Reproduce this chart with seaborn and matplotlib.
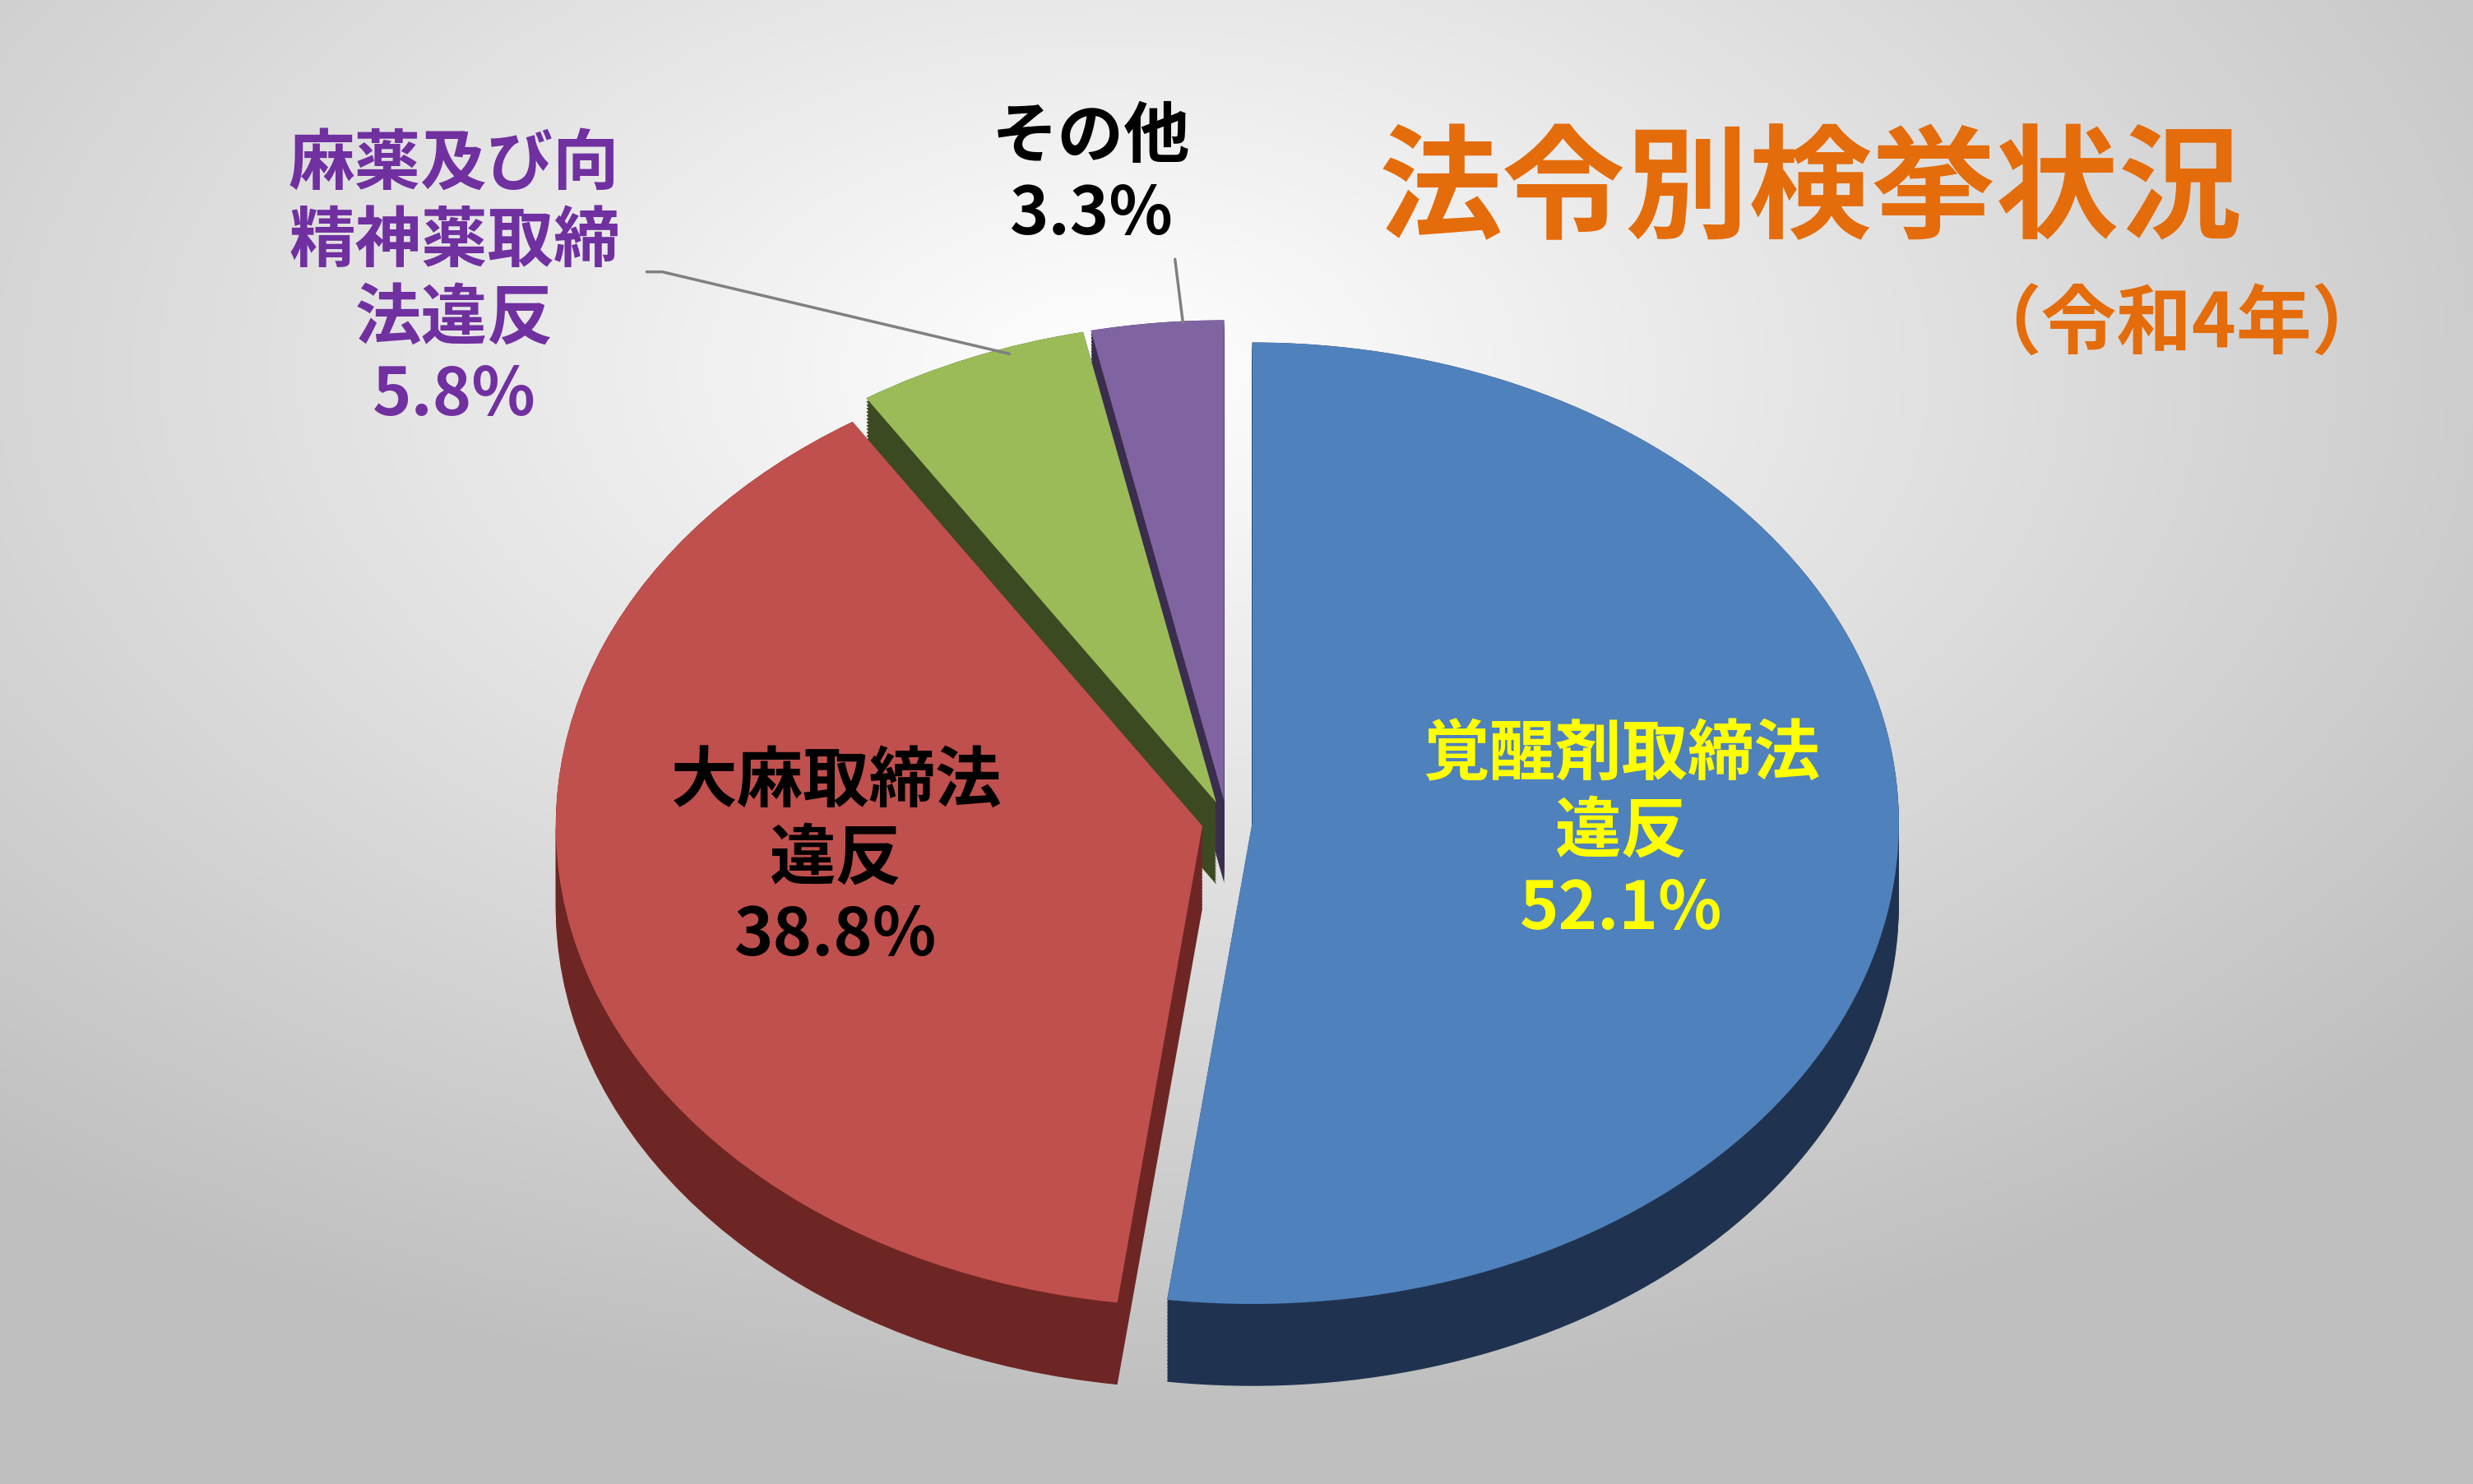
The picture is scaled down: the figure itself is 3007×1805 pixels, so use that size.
import numpy as np
import matplotlib
matplotlib.use("Agg")
import matplotlib.pyplot as plt
import seaborn as sns

sns.set_theme(style="white")
plt.rcParams['font.family'] = ['Noto Sans CJK JP', 'DejaVu Sans']

categories = ["覚醒剤取締法\n違反", "大麻取締法\n違反", "麻薬及び向\n精神薬取締\n法違反", "その他"]
values = [52.1, 38.8, 5.8, 3.3]
pct_labels = ["52.1%", "38.8%", "5.8%", "3.3%"]
top_colors = ["#4F81BD", "#C0504D", "#9BBB59", "#8064A2"]
side_colors = ["#1F3350", "#6E2624", "#3C4A22", "#3A2D4D"]
label_colors = ["#FFFF00", "#000000", "#7030A0", "#000000"]

W, H = 1568, 942
k = 410 / 305.0  # vertical squash factor

fig = plt.figure(figsize=(30.07, 18.06), dpi=100)
bg = fig.add_axes([0, 0, 1, 1])
yy, xx = np.mgrid[0:1:400j, 0:1:600j]
d = np.sqrt(((xx - 0.45) / 0.9) ** 2 + ((yy - 0.25) / 0.9) ** 2)
g = np.clip(1 - 0.32 * d, 0.75, 1.0)
bg.imshow(np.dstack([g, g, g]), extent=[0, 1, 0, 1], origin="upper", aspect="auto")
bg.axis("off")

ax = fig.add_axes([0, 0, 1, 1])
ax.patch.set_alpha(0)

def Y(yref):
    return (H - yref) * k

cx, cy = 778, 522
r = 410
depth = 52 * k
explode = [16, 16, 18, 18]
for dz in np.linspace(depth, 0, 25):
    ax.pie(values, colors=side_colors, startangle=90, counterclock=False,
           radius=r, center=(cx, Y(cy) - dz), explode=explode, frame=True,
           wedgeprops=dict(linewidth=0))
ax.pie(values, colors=top_colors, startangle=90, counterclock=False,
       radius=r, center=(cx, Y(cy)), explode=explode, frame=True,
       wedgeprops=dict(linewidth=0))
ax.set_xlim(0, W)
ax.set_ylim(0, H * k)
ax.set_aspect("auto")
ax.axis("off")

fp = dict(fontweight="bold", ha="center", va="center")
pos = [(1028, 528), (530, 545), (288, 178), (692, 112)]
sizes = [58, 58, 58, 58]
for (x, y), c, p, col, s in zip(pos, categories, pct_labels, label_colors, sizes):
    ax.text(x, Y(y), c + "\n" + p, color=col, fontsize=s, linespacing=1.2, **fp)

ax.plot([410, 420, 640], [Y(173), Y(173), Y(225)], color="#808080", lw=2.5)
ax.plot([745, 750], [Y(165), Y(205)], color="#808080", lw=2.5)

ax.text(1148, Y(122), "法令別検挙状況", color="#E46C0A", fontsize=108, **fp)
ax.text(1380, Y(207), "（令和4年）", color="#E46C0A", fontsize=66, **fp)

fig.savefig("out.png", dpi=100)
